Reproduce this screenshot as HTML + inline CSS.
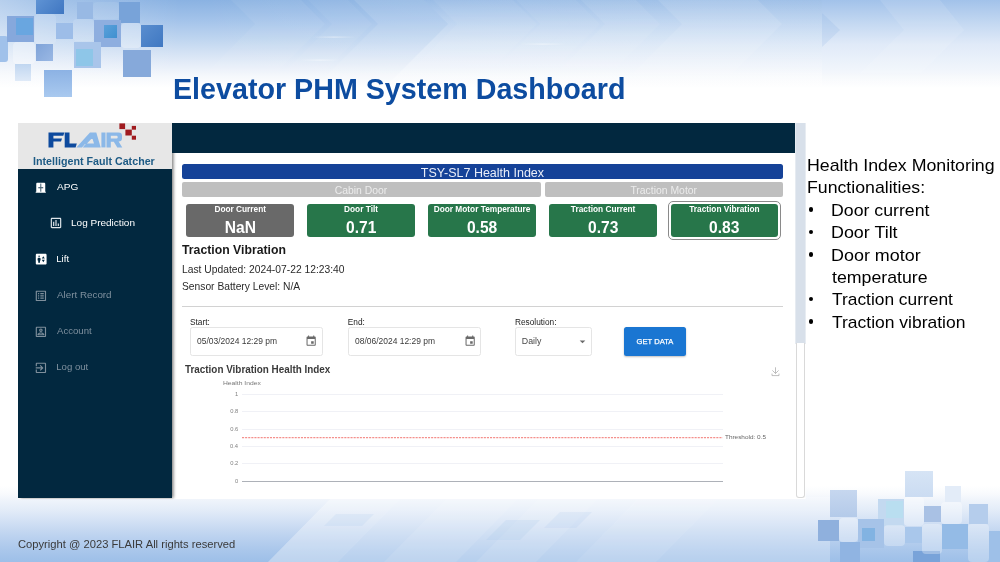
<!DOCTYPE html>
<html>
<head>
<meta charset="utf-8">
<title>Elevator PHM System Dashboard</title>
<style>
*{box-sizing:border-box;margin:0;padding:0}
html,body{width:1000px;height:562px;overflow:hidden;background:#fff}
body{font-family:"Liberation Sans",sans-serif;position:relative;color:#000}
.a{position:absolute}
.t{position:absolute;white-space:nowrap;line-height:1;transform-origin:0 50%}
.sq{position:absolute}
#topbg{left:0;top:0;width:1000px;height:110px;background:linear-gradient(180deg,#8ab2e2 0px,#a3c3ea 20px,#c0d6f0 40px,#dfe9f7 60px,#f5f8fc 76px,#fff 88px)}
#botbg{left:0;top:486px;width:1000px;height:76px;background:linear-gradient(180deg,#fff 0px,#f8fafd 8px,#eff4fb 14px,#e3ecf8 24px,#d4e2f5 34px,#c5d8f1 44px,#b7cfee 54px,#aac7eb 64px,#9dbfe8 76px)}
.navy{background:#02283f}
.card{position:absolute;top:203.7px;height:33.5px;border-radius:3px;background:#27764a}
.inp{position:absolute;top:327px;height:28.5px;border:1px solid #e5e5e5;border-radius:2.5px;background:#fff}
.grid{position:absolute;left:242px;width:480.7px;height:1px;background:#f0f1f6}
</style>
</head>
<body>
<div id="topbg" class="a"></div>
<div id="botbg" class="a"></div>
<svg class="a" style="left:0;top:0" width="1000" height="110" viewBox="0 0 1000 110">
<defs>
<linearGradient id="t2" x1="0" y1="0" x2="0" y2="1"><stop offset="0" stop-color="#a2c2ea"/><stop offset=".3" stop-color="#c2d7f1"/><stop offset=".6" stop-color="#e0eaf8"/><stop offset="1" stop-color="#f3f7fc"/></linearGradient>
<linearGradient id="hl" x1="0" y1="0" x2="1" y2="0"><stop offset="0" stop-color="#fff" stop-opacity="0"/><stop offset=".5" stop-color="#fff" stop-opacity=".45"/><stop offset="1" stop-color="#fff" stop-opacity="0"/></linearGradient>
<linearGradient id="cg" x1="0" y1="0" x2="1" y2="0"><stop offset="0" stop-color="#fff" stop-opacity=".38"/><stop offset=".35" stop-color="#fff" stop-opacity=".2"/><stop offset="1" stop-color="#fff" stop-opacity="0"/></linearGradient>
<linearGradient id="vs" gradientUnits="userSpaceOnUse" x1="0" y1="0" x2="0" y2="110"><stop offset="0" stop-color="#fff" stop-opacity=".06"/><stop offset=".2" stop-color="#fff" stop-opacity=".2"/><stop offset=".4" stop-color="#fff" stop-opacity=".32"/><stop offset="1" stop-color="#fff" stop-opacity=".32"/></linearGradient>
<linearGradient id="hz" x1="0" y1="0" x2="1" y2="0"><stop offset=".2" stop-color="#fff" stop-opacity="0"/><stop offset=".5" stop-color="#fff" stop-opacity=".10"/><stop offset=".7" stop-color="#fff" stop-opacity=".14"/><stop offset="1" stop-color="#fff" stop-opacity=".14"/></linearGradient>
</defs>
<rect x="0" y="0" width="1000" height="110" fill="url(#hz)"/>
<rect x="0" y="0" width="180" height="110" fill="url(#cg)"/>
<polygon points="424,0 822,0 822,110 362,110 448,24" fill="url(#vs)"/>
<polygon points="231,0 301,0 325,24 239,110 169,110 255,24" fill="#fff" fill-opacity="0.06"/>
<polygon points="308,0 348,0 372,24 286,110 246,110 332,24" fill="#fff" fill-opacity="0.05"/>
<polygon points="354,0 424,0 448,24 362,110 292,110 378,24" fill="#fff" fill-opacity="0.1"/>
<polygon points="433,0 513,0 537,24 451,110 371,110 457,24" fill="#fff" fill-opacity="0.06"/>
<polygon points="516,0 546,0 570,24 484,110 454,110 540,24" fill="#fff" fill-opacity="0.05"/>
<polygon points="546,0 576,0 600,24 514,110 484,110 570,24" fill="#fff" fill-opacity="0.05"/>
<polygon points="581,0 636,0 660,24 574,110 519,110 605,24" fill="#fff" fill-opacity="0.07"/>
<polygon points="658,0 758,0 782,24 696,110 596,110 682,24" fill="#fff" fill-opacity="0.1"/>

<rect x="312" y="36.500" width="44" height="1.200" fill="url(#hl)"/>
<rect x="300" y="59.500" width="40" height="1.200" fill="url(#hl)"/>
<rect x="520" y="43.500" width="46" height="1.200" fill="url(#hl)"/>
<rect x="822" y="0" width="178" height="73.500" fill="url(#t2)"/>
<polygon points="822,13 840,30 822,47" fill="#7fa9de" fill-opacity="0.16"/>
<polygon points="880,0 940,0 964,30 920,73.500 860,73.500 904,30" fill="#fff" fill-opacity="0.10"/>
</svg>
<svg class="a" style="left:0;top:484px" width="1000" height="78" viewBox="0 484 1000 78">
<polygon points="332,497 830,497 830,562 268,562" fill="#fff" fill-opacity="0.26"/>
<polygon points="332,497 402,497 338,562 268,562" fill="#fff" fill-opacity="0.10"/>
<polygon points="448,497 520,497 456,562 384,562" fill="#fff" fill-opacity="0.10"/>
<polygon points="540,497 600,497 536,562 476,562" fill="#fff" fill-opacity="0.10"/>
<polygon points="640,497 720,497 656,562 576,562" fill="#fff" fill-opacity="0.08"/>
<polygon points="336,514 374,514 362,526 324,526" fill="#9dbfe8" fill-opacity="0.14"/>
<polygon points="506,520 540,520 520,540 486,540" fill="#9dbfe8" fill-opacity="0.16"/>
<polygon points="560,512 592,512 576,528 544,528" fill="#9dbfe8" fill-opacity="0.14"/>
</svg>
<div id="deco">
<div class="sq" style="left:0.0px;top:36.4px;width:7.5px;height:25.2px;background:#a0c1ea;border-radius:0 3px 3px 0"></div>
<div class="sq" style="left:7.1px;top:15.9px;width:26.5px;height:26.1px;background:#86a8dc;border-radius:0px"></div>
<div class="sq" style="left:15.5px;top:17.7px;width:17.7px;height:17.8px;background:#69a6e0;border-radius:0px"></div>
<div class="sq" style="left:35.9px;top:0.0px;width:28.0px;height:13.6px;background:linear-gradient(135deg,#5f93d4,#3f76c1);border-radius:0px"></div>
<div class="sq" style="left:77.0px;top:2.2px;width:16.4px;height:16.5px;background:#98b9e4;border-radius:0px"></div>
<div class="sq" style="left:118.8px;top:2.2px;width:20.9px;height:21.2px;background:#78a3d9;border-radius:0px"></div>
<div class="sq" style="left:94.3px;top:19.6px;width:27.1px;height:27.1px;background:#8eaedf;border-radius:0px"></div>
<div class="sq" style="left:103.9px;top:24.8px;width:13.4px;height:13.1px;background:linear-gradient(135deg,#5aa0da,#3f90d0);border-radius:0px"></div>
<div class="sq" style="left:141.0px;top:24.8px;width:21.5px;height:21.9px;background:linear-gradient(135deg,#5a8ecf,#3f78c2);border-radius:0px"></div>
<div class="sq" style="left:55.5px;top:23.0px;width:17.0px;height:16.2px;background:#9dbde8;border-radius:0px"></div>
<div class="sq" style="left:35.5px;top:44.3px;width:17.0px;height:16.4px;background:linear-gradient(135deg,#7fa3d8,#9ab8e4);border-radius:0px"></div>
<div class="sq" style="left:74.2px;top:41.5px;width:26.7px;height:26.1px;background:#a9c5ea;border-radius:0px"></div>
<div class="sq" style="left:75.7px;top:48.9px;width:17.1px;height:16.9px;background:#8ec6e8;border-radius:0px"></div>
<div class="sq" style="left:122.9px;top:49.5px;width:27.7px;height:27.7px;background:#86a9da;border-radius:0px"></div>
<div class="sq" style="left:43.9px;top:69.7px;width:28.0px;height:27.4px;background:linear-gradient(180deg,#8cb2e4,#a9c9ef);border-radius:0px"></div>
<div class="sq" style="left:14.6px;top:64.4px;width:16.4px;height:16.9px;background:linear-gradient(180deg,#c0d6f0,#dfeaf8);border-radius:0px"></div>
<div class="sq" style="left:13.1px;top:42.0px;width:22.0px;height:21.5px;background:rgba(255,255,255,.3);border-radius:4px"></div>
<div class="sq" style="left:34.6px;top:14.0px;width:21.4px;height:29.9px;background:rgba(255,255,255,.12);border-radius:4px"></div>
<div class="sq" style="left:93.4px;top:1.9px;width:25.4px;height:16.8px;background:rgba(255,255,255,.08);border-radius:4px"></div>
<div class="sq" style="left:72.9px;top:18.7px;width:21.4px;height:22.4px;background:rgba(255,255,255,.12);border-radius:4px"></div>
<div class="sq" style="left:121.4px;top:23.4px;width:19.6px;height:24.2px;background:rgba(255,255,255,.3);border-radius:4px"></div>
<div class="sq" style="left:905.4px;top:471.0px;width:27.2px;height:26.4px;background:linear-gradient(180deg,#d6e4f5,#cbdcf2);border-radius:0px"></div>
<div class="sq" style="left:830.0px;top:490.4px;width:26.6px;height:26.6px;background:linear-gradient(180deg,#c6d7ef,#b4cae9);border-radius:0px"></div>
<div class="sq" style="left:818.4px;top:519.6px;width:20.6px;height:21.0px;background:#8fb0dd;border-radius:0px"></div>
<div class="sq" style="left:945.0px;top:486.4px;width:16.0px;height:16.0px;background:#e3ecf8;border-radius:0px"></div>
<div class="sq" style="left:877.6px;top:499.4px;width:26.4px;height:26.6px;background:#c3d9f0;border-radius:0px"></div>
<div class="sq" style="left:885.6px;top:501.4px;width:17.4px;height:16.6px;background:#b9def0;border-radius:0px"></div>
<div class="sq" style="left:858.0px;top:519.0px;width:26.0px;height:29.0px;background:#a6c3e8;border-radius:0px"></div>
<div class="sq" style="left:924.0px;top:506.4px;width:16.6px;height:15.6px;background:#a9c1e4;border-radius:0px"></div>
<div class="sq" style="left:862.0px;top:528.0px;width:12.6px;height:13.0px;background:#82b3e2;border-radius:0px"></div>
<div class="sq" style="left:969.0px;top:504.0px;width:19.0px;height:19.6px;background:#b5cdec;border-radius:0px"></div>
<div class="sq" style="left:913.0px;top:551.4px;width:27.0px;height:10.6px;background:#79a3d9;border-radius:0px"></div>
<div class="sq" style="left:840.0px;top:542.0px;width:20.0px;height:20.0px;background:#90b4e2;border-radius:0px"></div>
<div class="sq" style="left:942.0px;top:524.0px;width:26.0px;height:25.0px;background:#94bbe6;border-radius:0px"></div>
<div class="sq" style="left:905.0px;top:527.0px;width:16.6px;height:15.6px;background:#a9c7eb;border-radius:0px"></div>
<div class="sq" style="left:989.0px;top:531.0px;width:11.0px;height:31.0px;background:#9ec0e8;border-radius:0px"></div>
<div class="sq" style="left:904.0px;top:497.4px;width:20.0px;height:28.6px;background:rgba(255,255,255,.34);border-radius:4px"></div>
<div class="sq" style="left:839.0px;top:518.0px;width:19.0px;height:24.0px;background:rgba(255,255,255,.34);border-radius:4px"></div>
<div class="sq" style="left:884.0px;top:525.0px;width:21.0px;height:21.0px;background:rgba(255,255,255,.28);border-radius:4px"></div>
<div class="sq" style="left:941.0px;top:502.4px;width:21.0px;height:21.6px;background:rgba(255,255,255,.34);border-radius:4px"></div>
<div class="sq" style="left:922.0px;top:524.0px;width:20.0px;height:30.0px;background:rgba(255,255,255,.3);border-radius:4px"></div>
<div class="sq" style="left:968.0px;top:524.0px;width:21.0px;height:38.0px;background:rgba(255,255,255,.28);border-radius:4px"></div>
</div>

<div class="a" style="left:0;top:0;width:1000px;height:562px;clip-path:inset(123px 194.4px 62.8px 18px)"><div class="a" id="shotwrap" style="left:0;top:0;width:1000px;height:562px;filter:blur(0.4px)">
<!-- embedded dashboard screenshot -->
<div class="a" style="left:18px;top:123px;width:787.600px;height:376.200px;background:#fff"></div>
<div class="a navy" style="left:18px;top:123px;width:153.5px;height:374.800px;box-shadow:1.5px 0 3px rgba(0,0,0,.5)"></div>
<div class="a" style="left:18px;top:123px;width:153.5px;height:46.3px;background:#e7e7e7"></div>
<div class="a navy" style="left:171.8px;top:123px;width:623.2px;height:30.2px"></div>
<!-- scrollbar -->
<div class="a" style="left:795px;top:123px;width:10.6px;height:220.5px;background:#d8e0ea;border-left:1px solid #e6ebf1"></div>
<div class="a" style="left:795.5px;top:343px;width:9.8px;height:154.5px;border:1px solid #d9d9d9;border-top:none;border-radius:0 0 3px 3px;background:#fff"></div>
<svg class="a" style="left:44px;top:120px" width="96" height="32" viewBox="44 120 96 32">
<g fill="#0d4a9e">
<path d="M48.5 132.5H64.4L63.3 135.8H53.4V138.6H62L61 141.6H53.4V147.4H48.5Z"/>
<path d="M64.7 132.5H69.5V143.6H76.8L75.6 147.4H64.7Z"/>
</g>
<g fill="#8bb8e8">
<path d="M76.3 147.4L90 132.5H96.3L100.7 147.4H82.7L85.7 144.1H85L82 147.4ZM87 143.500H94L92.600 139H91.200Z" fill-rule="evenodd"/>
<path d="M101.4 132.5H105.5V147.4H101.4Z"/>
<path d="M106.5 132.5H118.5Q122 132.5 122 135.6V138.6Q122 141.6 118.6 141.6L122.3 147.4H117.3L113.8 141.7H110.8V147.4H106.5ZM110.8 135.8V138.6H116.6Q117.7 138.6 117.7 137.2Q117.7 135.8 116.6 135.8Z"/>
</g>
<g fill="#a01b1f">
<rect x="119.4" y="123.4" width="5.7" height="5.7"/>
<rect x="131.8" y="125.9" width="4.2" height="3.8"/>
<rect x="125.4" y="129.6" width="6.4" height="5.9"/>
<rect x="131.8" y="135.7" width="4.2" height="4"/>
</g>
</svg>
<svg class="a" style="left:34.0px;top:180.6px" width="13.5" height="13.5" viewBox="0 0 24 24"><path fill="#ffffff" d="M20 19V5c0-1.1-.9-2-2-2H6c-1.1 0-2 .9-2 2v14H3v2h18v-2z"/><rect x="11.100" y="4.500" width="1.900" height="14.500" fill="#4d6879"/><rect x="7.600" y="10.800" width="8.800" height="2.200" fill="#4d6879"/></svg>
<svg class="a" style="left:48.75px;top:216.15px" width="14" height="14" viewBox="0 0 24 24"><path fill="#dfe5ea" d="M19 3H5c-1.1 0-2 .9-2 2v14c0 1.1.9 2 2 2h14c1.1 0 2-.9 2-2V5c0-1.1-.9-2-2-2zm0 16H5V5h14v14zM7 10h2v7H7zm4-3h2v10h-2zm4 6h2v4h-2z"/></svg>
<svg class="a" style="left:33.5px;top:252.3px" width="14.4" height="14.4" viewBox="0 0 24 24"><path fill="#ffffff" d="M19 3H5c-1.1 0-2 .9-2 2v14c0 1.1.9 2 2 2h14c1.1 0 2-.9 2-2V5c0-1.1-.9-2-2-2zM8.500 6c.69 0 1.250.56 1.250 1.250S9.190 8.500 8.500 8.500s-1.250-.56-1.250-1.250S7.810 6 8.500 6zM11 14h-1v4H7v-4H6v-2.500c0-1.100.9-2 2-2h1c1.100 0 2 .9 2 2V14zm4.500 3L13 13h5l-2.500 4zM13 11l2.500-4 2.500 4h-5z"/></svg>
<svg class="a" style="left:34px;top:288.7px" width="13.8" height="13.8" viewBox="0 0 24 24"><path fill="#7f8f9c" d="M19 5v14H5V5h14m1.100-2H3.900c-.5 0-.9.4-.9.9v16.200c0 .4.400.9.9.9h16.200c.4 0 .9-.5.9-.9V3.900c0-.5-.5-.9-.9-.9zM11 7h6v2h-6V7zm0 4h6v2h-6v-2zm0 4h6v2h-6zM7 7h2v2H7zm0 4h2v2H7zm0 4h2v2H7z"/></svg>
<svg class="a" style="left:34px;top:325.1px" width="13.8" height="13.8" viewBox="0 0 24 24"><path fill="#7f8f9c" d="M19 5v14H5V5h14m0-2H5c-1.110 0-2 .9-2 2v14c0 1.100.89 2 2 2h14c1.100 0 2-.9 2-2V5c0-1.100-.9-2-2-2zm-7 9c-1.650 0-3-1.350-3-3s1.350-3 3-3 3 1.350 3 3-1.350 3-3 3zm0-4c-.55 0-1 .45-1 1s.45 1 1 1 1-.45 1-1-.45-1-1-1zm6 10H6v-1.530c0-2.500 3.970-3.580 6-3.580s6 1.080 6 3.580V18zm-9.690-2h7.380c-.69-.56-2.380-1.120-3.690-1.120s-3.010.56-3.690 1.120z"/></svg>
<svg class="a" style="left:34px;top:360.7px" width="13.8" height="13.8" viewBox="0 0 24 24"><path fill="#7f8f9c" d="M10.090 15.590L11.500 17l5-5-5-5-1.410 1.410L12.670 11H3v2h9.670l-2.580 2.590zM19 3H5c-1.110 0-2 .9-2 2v4h2V5h14v14H5v-4H3v4c0 1.100.89 2 2 2h14c1.100 0 2-.9 2-2V5c0-1.100-.9-2-2-2z"/></svg>
<!-- bars -->
<div class="a" style="left:182px;top:163.7px;width:600.6px;height:15.1px;background:#154298;border-radius:2.5px"></div>
<div class="a" style="left:182px;top:181.5px;width:358.5px;height:15.3px;background:#bfbfbf;border-radius:2px"></div>
<div class="a" style="left:545px;top:181.5px;width:237.6px;height:15.3px;background:#bfbfbf;border-radius:2px"></div>
<!-- cards -->
<div class="card" style="left:186.4px;width:107.7px;background:#696969"></div>
<div class="card" style="left:307.2px;width:107.8px"></div>
<div class="card" style="left:428.4px;width:107.6px"></div>
<div class="card" style="left:549.3px;width:107.6px"></div>
<div class="a" style="left:667.6px;top:200.6px;width:113.2px;height:39.4px;border:1px solid #8a8a8a;border-radius:5px;background:#fff"></div>
<div class="card" style="left:670.7px;width:107px"></div>
<!-- hr -->
<div class="a" style="left:182px;top:306.4px;width:600.6px;height:1px;background:#d2d2d2"></div>
<!-- inputs -->
<div class="inp" style="left:189.8px;width:132.8px"></div>
<div class="inp" style="left:348.2px;width:132.6px"></div>
<div class="inp" style="left:515.4px;width:76.3px"></div>
<div class="a" style="left:624.3px;top:327px;width:61.8px;height:28.7px;background:#1a76d2;border-radius:2.5px;box-shadow:0 1px 2px rgba(0,0,0,.25)"></div>
<svg class="a" style="left:305.4px;top:334.9px" width="12.3" height="12.3" viewBox="0 0 24 24"><path fill="#6a6a6a" d="M17 12h-5v5h5v-5zM16 1v2H8V1H6v2H5c-1.110 0-1.990.9-1.990 2L3 19c0 1.100.89 2 2 2h14c1.100 0 2-.9 2-2V5c0-1.100-.9-2-2-2h-1V1h-2zm3 18H5V8h14v11z"/></svg>
<svg class="a" style="left:463.6px;top:334.9px" width="12.3" height="12.3" viewBox="0 0 24 24"><path fill="#6a6a6a" d="M17 12h-5v5h5v-5zM16 1v2H8V1H6v2H5c-1.110 0-1.990.9-1.990 2L3 19c0 1.100.89 2 2 2h14c1.100 0 2-.9 2-2V5c0-1.100-.9-2-2-2h-1V1h-2zm3 18H5V8h14v11z"/></svg>
<svg class="a" style="left:579px;top:339.600px" width="7" height="4" viewBox="0 0 7 4"><path d="M0.700 0.500L3.500 3.300L6.300 0.500Z" fill="#6a6a6a"/></svg>
<svg class="a" style="left:770px;top:366px" width="11" height="11" viewBox="770 366 11 11"><path d="M775.500 367.300V373.400M772.400 370.400L775.500 373.500L778.600 370.400M772 373.600V375.600H779V373.600" fill="none" stroke="#a3a3a3" stroke-width="0.7"/></svg>
<!-- chart -->
<div class="grid" style="top:393.5px"></div>
<div class="grid" style="top:411px"></div>
<div class="grid" style="top:428.5px"></div>
<div class="grid" style="top:445.5px"></div>
<div class="grid" style="top:463px"></div>
<div class="grid" style="top:480.500px;height:1.400px;background:#adb1b8"></div>
<svg class="a" style="left:242px;top:435px" width="481" height="5" viewBox="0 0 481 5"><line x1="0" y1="2.600" x2="480.700" y2="2.600" stroke="#f4908c" stroke-width="1.250" stroke-dasharray="2.100 1"/></svg>

<div class="t" id="ifc" style="left:32.70px;top:156.53px;font-size:10px;color:#1d5b85;font-weight:bold;transform:scaleX(1.0690);">Intelligent Fault Catcher</div>
<div class="t" id="n0" style="left:56.80px;top:182.07px;font-size:9.6px;color:#fff;transform:scaleX(1.0513);">APG</div>
<div class="t" id="n1" style="left:70.92px;top:218.17px;font-size:9.6px;color:#fff;transform:scaleX(1.0433);">Log Prediction</div>
<div class="t" id="n2" style="left:56.25px;top:254.37px;font-size:9.6px;color:#fff;">Lift</div>
<div class="t" id="n3" style="left:57.00px;top:290.17px;font-size:9.6px;color:#7f909e;transform:scaleX(1.0237);">Alert Record</div>
<div class="t" id="n4" style="left:57.00px;top:326.17px;font-size:9.6px;color:#7f909e;">Account</div>
<div class="t" id="n5" style="left:56.25px;top:362.17px;font-size:9.6px;color:#7f909e;">Log out</div>
<div class="t" id="hb" style="left:420.85px;top:166.92px;font-size:12.5px;color:#e9edf8;">TSY-SL7 Health Index</div>
<div class="t" id="cb1" style="left:334.70px;top:185.50px;font-size:10.4px;color:#ececec;">Cabin Door</div>
<div class="t" id="cb2" style="left:630.42px;top:185.50px;font-size:10.4px;color:#ececec;">Traction Motor</div>
<div class="t" id="cl0" style="left:214.40px;top:204.77px;font-size:8.3px;color:#fff;font-weight:bold;">Door Current</div>
<div class="t" id="cv0" style="left:224.78px;top:220.39px;font-size:15.6px;color:#fff;font-weight:bold;">NaN</div>
<div class="t" id="cl1" style="left:344.05px;top:204.77px;font-size:8.3px;color:#fff;font-weight:bold;">Door Tilt</div>
<div class="t" id="cv1" style="left:346.05px;top:220.39px;font-size:15.6px;color:#fff;font-weight:bold;">0.71</div>
<div class="t" id="cl2" style="left:433.70px;top:204.77px;font-size:8.3px;color:#fff;font-weight:bold;">Door Motor Temperature</div>
<div class="t" id="cv2" style="left:466.95px;top:220.39px;font-size:15.6px;color:#fff;font-weight:bold;">0.58</div>
<div class="t" id="cl3" style="left:570.85px;top:204.77px;font-size:8.3px;color:#fff;font-weight:bold;">Traction Current</div>
<div class="t" id="cv3" style="left:587.98px;top:220.39px;font-size:15.6px;color:#fff;font-weight:bold;">0.73</div>
<div class="t" id="cl4" style="left:689.20px;top:204.77px;font-size:8.3px;color:#fff;font-weight:bold;">Traction Vibration</div>
<div class="t" id="cv4" style="left:709.08px;top:220.39px;font-size:15.6px;color:#fff;font-weight:bold;">0.83</div>
<div class="t" id="h1" style="left:182.45px;top:244.37px;font-size:12.2px;color:#1a1a1a;font-weight:bold;transform:scaleX(1.0059);">Traction Vibration</div>
<div class="t" id="lu" style="left:181.54px;top:264.85px;font-size:10.1px;color:#2a2a2a;transform:scaleX(1.0199);">Last Updated: 2024-07-22 12:23:40</div>
<div class="t" id="sb" style="left:181.79px;top:281.95px;font-size:10.1px;color:#2a2a2a;transform:scaleX(1.0173);">Sensor Battery Level: N/A</div>
<div class="t" id="l1" style="left:190.00px;top:318.37px;font-size:8.3px;color:#222;">Start:</div>
<div class="t" id="l2" style="left:347.75px;top:318.37px;font-size:8.3px;color:#222;">End:</div>
<div class="t" id="l3" style="left:514.95px;top:318.37px;font-size:8.3px;color:#222;">Resolution:</div>
<div class="t" id="i1" style="left:196.75px;top:337.09px;font-size:8.4px;color:#3a3a3a;transform:scaleX(1.0102);">05/03/2024 12:29 pm</div>
<div class="t" id="i2" style="left:354.95px;top:337.09px;font-size:8.4px;color:#3a3a3a;transform:scaleX(1.0102);">08/06/2024 12:29 pm</div>
<div class="t" id="i3" style="left:521.85px;top:336.85px;font-size:8.8px;color:#484848;">Daily</div>
<div class="t" id="gd" style="left:636.60px;top:337.67px;font-size:7.6px;color:#fff;-webkit-text-stroke:0.25px #fff;">GET DATA</div>
<div class="t" id="ct" style="left:184.70px;top:365.24px;font-size:10px;color:#3a3a3a;font-weight:bold;transform:scaleX(0.9884);">Traction Vibration Health Index</div>
<div class="t" id="hi" style="left:223.04px;top:380.42px;font-size:6px;color:#777;transform:scaleX(1.1242);">Health Index</div>
<div class="t" id="th" style="left:725.40px;top:435.29px;font-size:5.8px;color:#666;transform:scaleX(1.1048);">Threshold: 0.5</div>
<div class="t" id="tk0" style="left:235.00px;top:391.79px;font-size:5.8px;color:#828282;">1</div>
<div class="t" id="tk1" style="left:230.25px;top:409.29px;font-size:5.8px;color:#828282;">0.8</div>
<div class="t" id="tk2" style="left:230.25px;top:426.79px;font-size:5.8px;color:#828282;">0.6</div>
<div class="t" id="tk3" style="left:230.00px;top:443.79px;font-size:5.8px;color:#828282;">0.4</div>
<div class="t" id="tk4" style="left:230.25px;top:461.39px;font-size:5.8px;color:#828282;">0.2</div>
<div class="t" id="tk5" style="left:235.00px;top:478.79px;font-size:5.8px;color:#828282;">0</div>
</div></div>
<div class="t" id="title" style="left:172.69px;top:73.51px;font-size:30px;color:#0d4ca0;font-weight:bold;transform:scaleX(0.9555);">Elevator PHM System Dashboard</div>
<div class="t" id="copy" style="left:17.91px;top:538.57px;font-size:11.5px;color:#3a3a3a;transform:scaleX(0.9730);">Copyright @ 2023 FLAIR All rights reserved</div>
<div class="t" id="rp0" style="left:807.30px;top:157.94px;font-size:15.9px;color:#000;transform:scaleX(1.1178);">Health Index Monitoring</div>
<div class="t" id="rp1" style="left:807.31px;top:180.34px;font-size:15.9px;color:#000;transform:scaleX(1.1138);">Functionalities:</div>
<div class="t" id="rp2" style="left:830.61px;top:202.74px;font-size:15.9px;color:#000;transform:scaleX(1.1149);">Door current</div>
<div class="t" id="rp3" style="left:830.59px;top:225.14px;font-size:15.9px;color:#000;transform:scaleX(1.1255);">Door Tilt</div>
<div class="t" id="rp4" style="left:830.59px;top:247.54px;font-size:15.9px;color:#000;transform:scaleX(1.1282);">Door motor</div>
<div class="t" id="rp5" style="left:831.72px;top:269.94px;font-size:15.9px;color:#000;transform:scaleX(1.1162);">temperature</div>
<div class="t" id="rp6" style="left:831.73px;top:292.34px;font-size:15.9px;color:#000;transform:scaleX(1.0921);">Traction current</div>
<div class="t" id="rp7" style="left:831.73px;top:314.74px;font-size:15.9px;color:#000;transform:scaleX(1.1000);">Traction vibration</div>
<!-- bullets -->
<div class="a" style="left:808.9px;top:207.3px;width:4.6px;height:4.6px;border-radius:50%;background:#000"></div>
<div class="a" style="left:808.9px;top:229.7px;width:4.6px;height:4.6px;border-radius:50%;background:#000"></div>
<div class="a" style="left:808.9px;top:252.1px;width:4.6px;height:4.6px;border-radius:50%;background:#000"></div>
<div class="a" style="left:808.9px;top:296.9px;width:4.6px;height:4.6px;border-radius:50%;background:#000"></div>
<div class="a" style="left:808.9px;top:319.3px;width:4.6px;height:4.6px;border-radius:50%;background:#000"></div>

</body>
</html>
